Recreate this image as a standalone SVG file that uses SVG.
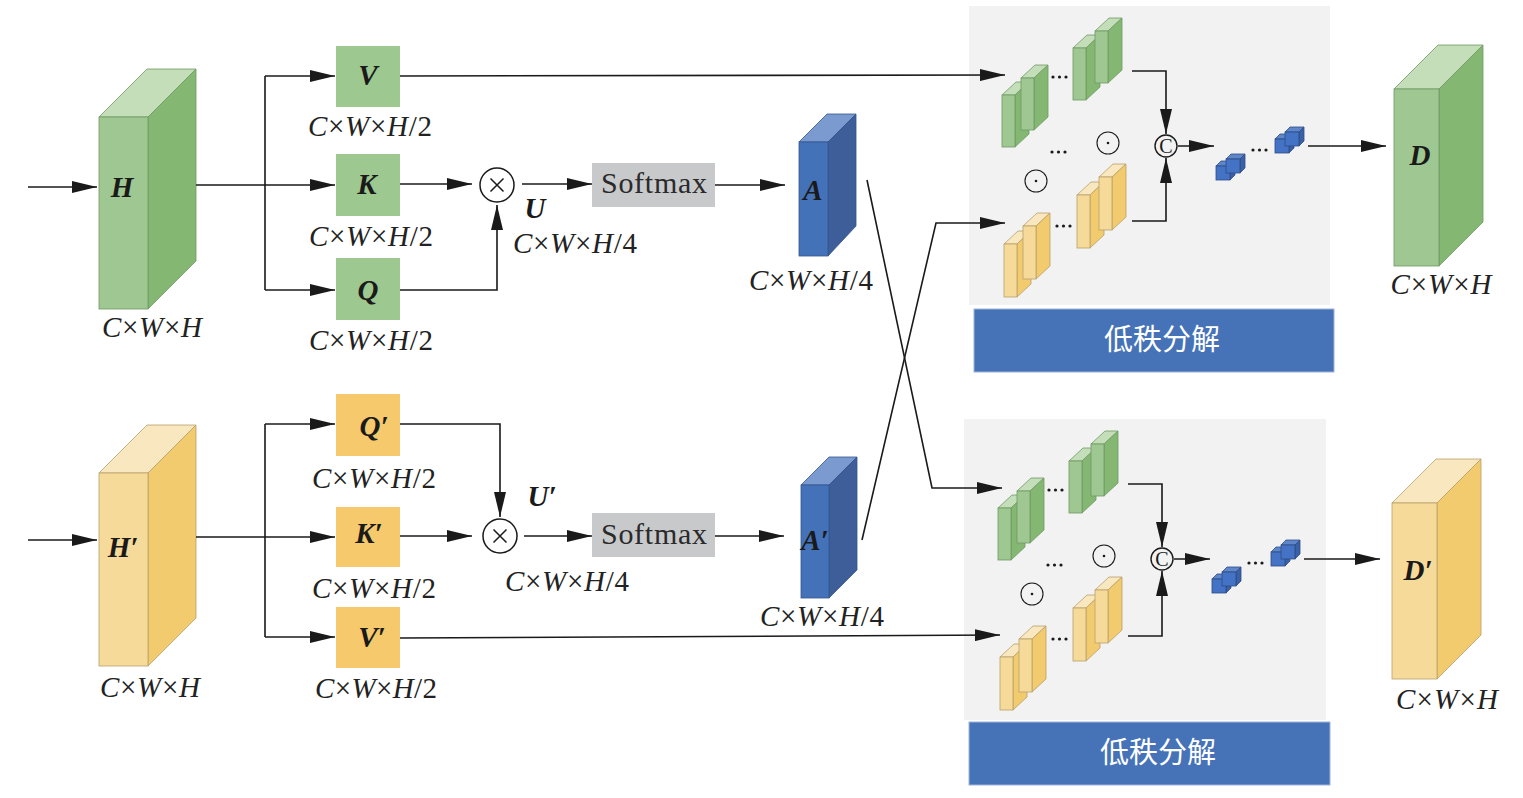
<svg xmlns="http://www.w3.org/2000/svg" xmlns:xlink="http://www.w3.org/1999/xlink" width="1523" height="798" viewBox="0 0 1523 798">
<style>
.ln{fill:none;stroke:#1a1a1a;stroke-width:1.6}
.ar{marker-end:url(#ah)}
.dim{font-family:"Liberation Serif","Times New Roman",serif;font-size:29px;fill:#222}
.i{font-style:italic}
.lbl{font-family:"Liberation Serif","Times New Roman",serif;font-size:29px;font-weight:bold;font-style:italic;fill:#1a1a1a}
.sm{font-family:"Liberation Serif","Times New Roman",serif;font-size:30px;fill:#2a2a2a}
.cn{font-family:"Noto Sans CJK SC","Noto Sans",sans-serif;font-size:29px;fill:#fff}
.cc{font-family:"Liberation Serif","Times New Roman",serif;font-size:20px;fill:#1a1a1a}
.gf{fill:#9ec791;stroke:#6f9a63;stroke-width:0.8}
.gr{fill:#84b872;stroke:#6f9a63;stroke-width:0.8}
.gt{fill:#c3deb8;stroke:#6f9a63;stroke-width:0.8}
.yf{fill:#f6da9a;stroke:#b8a06a;stroke-width:0.8}
.yr{fill:#f2cb6e;stroke:#b8a06a;stroke-width:0.8}
.yt{fill:#f9e7bf;stroke:#b8a06a;stroke-width:0.8}
.bf{fill:#4472b8;stroke:#33568f;stroke-width:0.8}
.br{fill:#3d5e98;stroke:#33568f;stroke-width:0.8}
.bt{fill:#7b9bd0;stroke:#33568f;stroke-width:0.8}
.cf{fill:#4472c4;stroke:#2f4d86;stroke-width:0.8}
.cr{fill:#3a60a8;stroke:#2f4d86;stroke-width:0.8}
.ct{fill:#5f86c9;stroke:#2f4d86;stroke-width:0.8}
.gbox{fill:#9dc88f}
.ybox{fill:#f5c96c}
.sbox{fill:#c8c9cb}
.panel{fill:#f2f2f2}
.bar{fill:#4672b8;stroke:#9fb3da;stroke-width:1}
.op{fill:none;stroke:#1a1a1a;stroke-width:1.5}
.op2{fill:none;stroke:#1a1a1a;stroke-width:1.1}
.op3{fill:none;stroke:#1a1a1a;stroke-width:1.4}
.dot{fill:#1a1a1a}
</style>
<defs>
<marker id="ah" markerUnits="userSpaceOnUse" markerWidth="25" markerHeight="12" refX="25" refY="6" orient="auto">
<path d="M0,0 L25,6 L0,12 Z" fill="#1a1a1a"/>
</marker>
<g id="slabG"><polygon class="gt" points="0,0 14,-13 27,-13 13,0"/><polygon class="gr" points="13,0 27,-13 27,39 13,52"/><rect class="gf" x="0" y="0" width="13" height="52"/></g>
<g id="slabY"><polygon class="yt" points="0,0 14,-13 27,-13 13,0"/><polygon class="yr" points="13,0 27,-13 27,40 13,53"/><rect class="yf" x="0" y="0" width="13" height="53"/></g>
<g id="cube"><polygon class="ct" points="0,0 5,-5 19,-5 14,0"/><polygon class="cr" points="14,0 19,-5 19,9 14,14"/><rect class="cf" x="0" y="0" width="14" height="14"/></g>
<g id="odot"><circle class="op2" cx="0" cy="0" r="11"/><circle class="dot" cx="0" cy="0" r="1.3"/></g>
<g id="dots3"><circle class="dot" cx="0" cy="0" r="1.6"/><circle class="dot" cx="6.5" cy="0" r="1.6"/><circle class="dot" cx="13" cy="0" r="1.6"/></g>
</defs>
<rect width="1523" height="798" fill="#fff"/>

<g id="node-H">
<polygon class="gt" points="99,117 147,69 196,69 148,117"/>
<polygon class="gr" points="148,117 196,69 196,261 148,309"/>
<rect class="gf" x="99" y="117" width="49" height="192"/>
<text class="lbl" x="122" y="197" text-anchor="middle">H</text>
<text class="dim" x="152" y="337" text-anchor="middle" textLength="100" lengthAdjust="spacing"><tspan class="i">C</tspan>×<tspan class="i">W</tspan>×<tspan class="i">H</tspan></text>
</g>
<g id="node-H2">
<polygon class="yt" points="99,473 147,425 196,425 148,473"/>
<polygon class="yr" points="148,473 196,425 196,618 148,666"/>
<rect class="yf" x="99" y="473" width="49" height="193"/>
<text class="lbl" x="123" y="557" text-anchor="middle">H′</text>
<text class="dim" x="150" y="697" text-anchor="middle" textLength="100" lengthAdjust="spacing"><tspan class="i">C</tspan>×<tspan class="i">W</tspan>×<tspan class="i">H</tspan></text>
</g>

<g id="node-V">
<rect class="gbox" x="336" y="46" width="64" height="61"/>
<text class="lbl" x="368" y="85" text-anchor="middle">V</text>
<text class="dim" x="370" y="136" text-anchor="middle" textLength="124" lengthAdjust="spacing"><tspan class="i">C</tspan>×<tspan class="i">W</tspan>×<tspan class="i">H</tspan>/2</text>
</g>
<g id="node-K">
<rect class="gbox" x="336" y="154" width="64" height="62"/>
<text class="lbl" x="367" y="194" text-anchor="middle">K</text>
<text class="dim" x="371" y="246" text-anchor="middle" textLength="124" lengthAdjust="spacing"><tspan class="i">C</tspan>×<tspan class="i">W</tspan>×<tspan class="i">H</tspan>/2</text>
</g>
<g id="node-Q">
<rect class="gbox" x="336" y="258" width="64" height="62"/>
<text class="lbl" x="368" y="300" text-anchor="middle">Q</text>
<text class="dim" x="371" y="350" text-anchor="middle" textLength="124" lengthAdjust="spacing"><tspan class="i">C</tspan>×<tspan class="i">W</tspan>×<tspan class="i">H</tspan>/2</text>
</g>
<g id="node-Q2">
<rect class="ybox" x="336" y="394" width="64" height="62"/>
<text class="lbl" x="374" y="436" text-anchor="middle">Q′</text>
<text class="dim" x="374" y="488" text-anchor="middle" textLength="124" lengthAdjust="spacing"><tspan class="i">C</tspan>×<tspan class="i">W</tspan>×<tspan class="i">H</tspan>/2</text>
</g>
<g id="node-K2">
<rect class="ybox" x="336" y="507" width="64" height="60"/>
<text class="lbl" x="369" y="543" text-anchor="middle">K′</text>
<text class="dim" x="374" y="598" text-anchor="middle" textLength="124" lengthAdjust="spacing"><tspan class="i">C</tspan>×<tspan class="i">W</tspan>×<tspan class="i">H</tspan>/2</text>
</g>
<g id="node-V2">
<rect class="ybox" x="336" y="607" width="64" height="61"/>
<text class="lbl" x="372" y="647" text-anchor="middle">V′</text>
<text class="dim" x="376" y="698" text-anchor="middle" textLength="122" lengthAdjust="spacing"><tspan class="i">C</tspan>×<tspan class="i">W</tspan>×<tspan class="i">H</tspan>/2</text>
</g>

<g id="op-mul1">
<circle class="op" cx="497" cy="185" r="17"/>
<path class="op" d="M490.5,178.5 L503.5,191.5 M503.5,178.5 L490.5,191.5"/>
<text class="lbl" x="535" y="218" text-anchor="middle">U</text>
<text class="dim" x="575" y="253" text-anchor="middle" textLength="124" lengthAdjust="spacing"><tspan class="i">C</tspan>×<tspan class="i">W</tspan>×<tspan class="i">H</tspan>/4</text>
</g>
<g id="op-mul2">
<circle class="op" cx="500" cy="536" r="17"/>
<path class="op" d="M493.5,529.5 L506.5,542.5 M506.5,529.5 L493.5,542.5"/>
<text class="lbl" x="542" y="506" text-anchor="middle">U′</text>
<text class="dim" x="567" y="591" text-anchor="middle" textLength="124" lengthAdjust="spacing"><tspan class="i">C</tspan>×<tspan class="i">W</tspan>×<tspan class="i">H</tspan>/4</text>
</g>

<g id="node-softmax1">
<rect class="sbox" x="592" y="163" width="123" height="44"/>
<text class="sm" x="654" y="193" text-anchor="middle" textLength="106" lengthAdjust="spacing">Softmax</text>
</g>
<g id="node-softmax2">
<rect class="sbox" x="592" y="513" width="123" height="44"/>
<text class="sm" x="654" y="544" text-anchor="middle" textLength="106" lengthAdjust="spacing">Softmax</text>
</g>

<g id="node-A">
<polygon class="bt" points="799,142 827,114 856,114 828,142"/>
<polygon class="br" points="828,142 856,114 856,226 828,256"/>
<rect class="bf" x="799" y="142" width="29" height="114"/>
<text class="lbl" x="813" y="200" text-anchor="middle">A</text>
<text class="dim" x="811" y="290" text-anchor="middle" textLength="124" lengthAdjust="spacing"><tspan class="i">C</tspan>×<tspan class="i">W</tspan>×<tspan class="i">H</tspan>/4</text>
</g>
<g id="node-A2">
<polygon class="bt" points="801,485 829,457 857,457 829,485"/>
<polygon class="br" points="829,485 857,457 857,570 829,598"/>
<rect class="bf" x="801" y="485" width="28" height="113"/>
<text class="lbl" x="815" y="550" text-anchor="middle">A′</text>
<text class="dim" x="822" y="626" text-anchor="middle" textLength="124" lengthAdjust="spacing"><tspan class="i">C</tspan>×<tspan class="i">W</tspan>×<tspan class="i">H</tspan>/4</text>
</g>

<g id="node-D">
<polygon class="gt" points="1394,89 1438,45 1483,45 1439,89"/>
<polygon class="gr" points="1439,89 1483,45 1483,222 1439,266"/>
<rect class="gf" x="1394" y="89" width="45" height="177"/>
<text class="lbl" x="1420" y="165" text-anchor="middle">D</text>
<text class="dim" x="1441" y="294" text-anchor="middle" textLength="101" lengthAdjust="spacing"><tspan class="i">C</tspan>×<tspan class="i">W</tspan>×<tspan class="i">H</tspan></text>
</g>
<g id="node-D2">
<polygon class="yt" points="1392,503 1436,459 1481,459 1437,503"/>
<polygon class="yr" points="1437,503 1481,459 1481,635 1437,679"/>
<rect class="yf" x="1392" y="503" width="45" height="176"/>
<text class="lbl" x="1418" y="580" text-anchor="middle">D′</text>
<text class="dim" x="1447" y="709" text-anchor="middle" textLength="102" lengthAdjust="spacing"><tspan class="i">C</tspan>×<tspan class="i">W</tspan>×<tspan class="i">H</tspan></text>
</g>

<g id="panel-lr1">
<rect class="panel" x="969" y="6" width="361" height="299"/>
<use xlink:href="#slabG" x="1002" y="95"/>
<use xlink:href="#slabG" x="1021" y="78"/>
<use xlink:href="#slabG" x="1073" y="48"/>
<use xlink:href="#slabG" x="1095" y="31"/>
<use xlink:href="#slabY" x="1004" y="244"/>
<use xlink:href="#slabY" x="1023" y="226"/>
<use xlink:href="#slabY" x="1077" y="195"/>
<use xlink:href="#slabY" x="1099" y="177"/>
<use xlink:href="#dots3" x="1053" y="77"/>
<use xlink:href="#dots3" x="1052" y="152"/>
<use xlink:href="#dots3" x="1057" y="226"/>
<use xlink:href="#dots3" x="1253" y="150"/>
<use xlink:href="#odot" x="1108" y="143"/>
<use xlink:href="#odot" x="1036" y="181"/>
<circle class="op3" cx="1166" cy="146" r="11"/>
<text class="cc" x="1166" y="153" text-anchor="middle">C</text>
<use xlink:href="#cube" x="1216" y="166"/>
<use xlink:href="#cube" x="1226" y="159"/>
<use xlink:href="#cube" x="1275" y="139"/>
<use xlink:href="#cube" x="1285" y="132"/>
<rect class="bar" x="974" y="309" width="360" height="63"/>
<text class="cn" x="1162" y="350" text-anchor="middle">低秩分解</text>
</g>
<g id="panel-lr2">
<rect class="panel" x="964" y="419" width="362" height="301"/>
<g transform="translate(-4,413)">
<use xlink:href="#slabG" x="1002" y="95"/>
<use xlink:href="#slabG" x="1021" y="78"/>
<use xlink:href="#slabG" x="1073" y="48"/>
<use xlink:href="#slabG" x="1095" y="31"/>
<use xlink:href="#slabY" x="1004" y="244"/>
<use xlink:href="#slabY" x="1023" y="226"/>
<use xlink:href="#slabY" x="1077" y="195"/>
<use xlink:href="#slabY" x="1099" y="177"/>
<use xlink:href="#dots3" x="1053" y="77"/>
<use xlink:href="#dots3" x="1052" y="152"/>
<use xlink:href="#dots3" x="1057" y="226"/>
<use xlink:href="#dots3" x="1253" y="150"/>
<use xlink:href="#odot" x="1108" y="143"/>
<use xlink:href="#odot" x="1036" y="181"/>
<circle class="op3" cx="1166" cy="146" r="11"/>
<text class="cc" x="1166" y="153" text-anchor="middle">C</text>
<use xlink:href="#cube" x="1216" y="166"/>
<use xlink:href="#cube" x="1226" y="159"/>
<use xlink:href="#cube" x="1275" y="139"/>
<use xlink:href="#cube" x="1285" y="132"/>
</g>
<rect class="bar" x="969" y="722" width="361" height="63"/>
<text class="cn" x="1158" y="763" text-anchor="middle">低秩分解</text>
</g>

<g id="connectors">
<path class="ln ar" d="M28,187 H97"/>
<path class="ln" d="M196,185 H265 M265,76 V290"/>
<path class="ln ar" d="M265,76 H335"/>
<path class="ln ar" d="M265,185 H335"/>
<path class="ln ar" d="M265,290 H335"/>
<path class="ln ar" d="M400,184 H472"/>
<path class="ln ar" d="M400,290 H497 V205"/>
<path class="ln ar" d="M522,184 H592"/>
<path class="ln ar" d="M715,185 H785"/>
<path class="ln ar" d="M867,180 L932,488 H1002"/>
<path class="ln ar" d="M862,540 L936,223 H1005"/>
<path class="ln ar" d="M400,76 L1005,75"/>
<path class="ln ar" d="M400,638 L1000,635"/>
<path class="ln ar" d="M28,540 H97"/>
<path class="ln" d="M196,537 H265 M265,424 V637"/>
<path class="ln ar" d="M265,424 H335"/>
<path class="ln ar" d="M265,537 H335"/>
<path class="ln ar" d="M265,637 H335"/>
<path class="ln ar" d="M400,424 H500 V517"/>
<path class="ln ar" d="M400,536 H472"/>
<path class="ln ar" d="M524,536 H592"/>
<path class="ln ar" d="M715,536 H784"/>
<path class="ln ar" d="M1132,71 H1166 V134"/>
<path class="ln ar" d="M1132,221 H1166 V158"/>
<path class="ln ar" d="M1178,146 H1214"/>
<path class="ln ar" d="M1308,146 H1386"/>
<path class="ln ar" d="M1128,484 H1162 V547"/>
<path class="ln ar" d="M1128,636 H1162 V571"/>
<path class="ln ar" d="M1174,559 H1210"/>
<path class="ln ar" d="M1304,559 H1380"/>
</g>
</svg>
